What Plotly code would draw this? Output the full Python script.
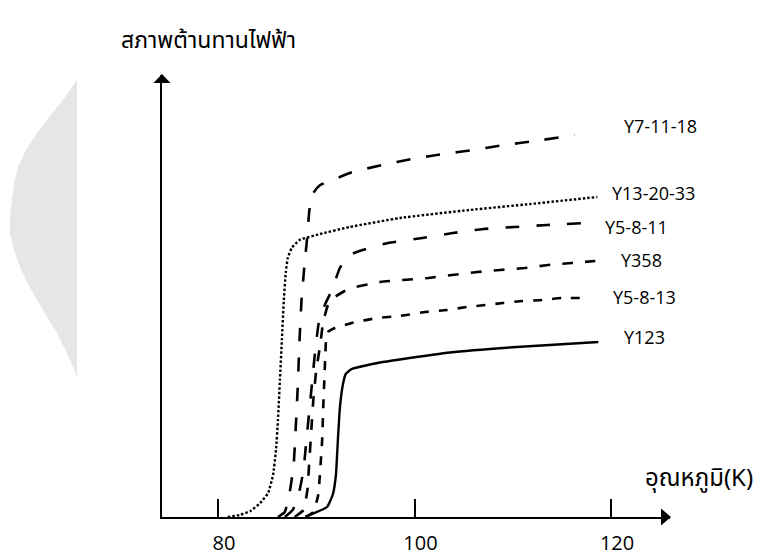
import plotly.graph_objects as go

# Temperature (K) / resistance (arbitrary units) readings for each compound
y123_T = [88.9, 89.6, 91.1, 91.7, 92.0, 92.2, 92.4, 92.7, 93.0, 93.6, 94.8, 96.5, 98.5, 103.6, 110.4, 118.7]
y123_R = [0.0, 0.3, 1.0, 2.3, 4.2, 7.7, 10.9, 13.2, 14.3, 14.8, 15.1, 15.45, 15.75, 16.45, 17.0, 17.5]

y5813_T = [88.9, 89.7, 90.2, 90.4, 90.6, 90.7, 90.8, 90.9, 91.0, 91.2, 91.9, 92.9, 93.6, 96.2, 98.5,
           101.1, 103.3, 105.3, 107.2, 109.0, 111.0, 113.0, 115.0, 117.3]
y5813_R = [0.0, 0.5, 2.2, 4.7, 7.7, 10.7, 13.2, 15.7, 17.7, 18.5, 18.9, 19.2, 19.4, 19.9, 20.1,
           20.5, 20.7, 21.0, 21.2, 21.4, 21.6, 21.7, 21.9, 21.9]

y358_T = [87.8, 88.7, 89.1, 89.3, 89.5, 89.7, 90.0, 90.4, 90.7, 91.2, 91.9, 92.7, 93.6, 96.5, 98.8,
          101.4, 103.8, 106.4, 108.7, 111.2, 113.6, 116.0, 118.4]
y358_R = [0.0, 0.7, 2.7, 5.7, 8.7, 11.7, 14.7, 17.2, 19.5, 21.2, 22.0, 22.5, 22.9, 23.5, 23.7,
          23.9, 24.2, 24.5, 24.7, 24.9, 25.2, 25.4, 25.6]

y5811_T = [86.8, 87.6, 88.2, 88.7, 89.0, 89.3, 89.6, 89.9, 90.3, 91.0, 91.6, 92.4, 93.4, 94.7, 97.3,
           100.8, 103.9, 107.0, 110.2, 113.5, 117.4]
y5811_R = [0.0, 0.7, 2.2, 4.7, 7.7, 10.7, 13.7, 16.7, 19.7, 21.5, 22.7, 24.9, 26.2, 26.7, 27.4,
           27.9, 28.4, 28.8, 29.0, 29.2, 29.4]

y132033_T = [81.0, 82.2, 83.3, 84.3, 85.1, 85.6, 85.9, 86.1, 86.3, 86.5, 86.7, 86.9, 87.1, 87.5, 88.3,
             90.4, 93.4, 98.5, 105.6, 111.8, 118.6]
y132033_R = [0.0, 0.2, 0.6, 1.4, 2.4, 4.2, 6.7, 9.7, 13.7, 17.7, 21.7, 24.5, 25.9, 26.9, 27.7,
             28.3, 29.0, 29.9, 30.7, 31.3, 32.0]

y71118_T = [86.1, 86.8, 87.3, 87.7, 87.9, 88.1, 88.3, 88.5, 88.8, 89.1, 89.3, 89.7, 90.4, 91.9, 93.7,
            96.7, 99.7, 102.9, 106.0, 109.1, 112.3, 116.3]
y71118_R = [0.0, 0.5, 2.5, 5.2, 8.7, 12.7, 17.7, 21.7, 25.2, 28.2, 30.7, 32.4, 33.2, 33.8, 34.5,
            35.2, 35.8, 36.3, 36.7, 37.2, 37.6, 38.2]

tick_values = [80, 100, 120]
tick_text = ["80", "100", "120"]

series = [
    ("Y7-11-18", y71118_T, y71118_R, "14px,16px", 2.6),
    ("Y13-20-33", y132033_T, y132033_R, "2.5px,2px", 2.4),
    ("Y5-8-11", y5811_T, y5811_R, "14px,17px", 2.6),
    ("Y358", y358_T, y358_R, "11px,12px", 2.6),
    ("Y5-8-13", y5813_T, y5813_R, "9px,10px", 2.6),
    ("Y123", y123_T, y123_R, "solid", 2.4),
]

# label anchor points (left edge, vertical middle) in data units
label_pos = {
    "Y7-11-18": (121.1, 39.1),
    "Y13-20-33": (119.9, 32.4),
    "Y5-8-11": (119.2, 29.0),
    "Y358": (120.8, 25.7),
    "Y5-8-13": (120.0, 22.0),
    "Y123": (121.1, 18.0),
}

W, H = 764, 558
ML, MR, MT, MB = 162, 94, 75, 41

fig = go.Figure()
for name, t, r, dash, w in series:
    fig.add_trace(go.Scatter(
        x=t, y=r, mode="lines", name=name,
        line=dict(color="black", width=w, dash=dash, shape="spline", smoothing=0.4),
        showlegend=False, hoverinfo="skip",
    ))

annotations = []
for name, (lx, ly) in label_pos.items():
    annotations.append(dict(x=lx, y=ly, xref="x", yref="y", text=name, showarrow=False,
                            xanchor="left", yanchor="middle",
                            font=dict(family="Open Sans", size=18, color="black")))


def paper(px, py):
    """Pixel position on the page -> paper coordinates."""
    return (px - ML) / (W - ML - MR), (H - MB - py) / (H - MT - MB)


thai_font = "Noto Sans Thai, Tahoma, Loma, Garuda, sans-serif"
tx, ty = paper(119, 41)
annotations.append(dict(x=tx, y=ty, xref="paper", yref="paper",
                        text="สภาพต้านทานไฟฟ้า", showarrow=False, xanchor="left", yanchor="middle",
                        font=dict(family=thai_font, size=23, color="black")))
lx, ly = paper(643, 479)
annotations.append(dict(x=lx, y=ly, xref="paper", yref="paper", text="อุณหภูมิ(K)", showarrow=False,
                        xanchor="left", yanchor="middle",
                        font=dict(family=thai_font, size=24, color="black")))


def path_from(points):
    pts = [paper(*p) for p in points]
    return "M " + " L ".join(f"{x:.5f},{y:.5f}" for x, y in pts) + " Z"


# light grey crescent on the left edge of the page
crescent = [(77, 80), (70, 90), (63, 100), (50, 116), (37, 133), (26, 150), (18, 167), (14, 184),
            (12, 200), (10, 217), (10, 233), (14, 250), (20, 267), (28, 284), (37, 300), (47, 317),
            (57, 333), (64, 347), (70, 360), (74, 369), (77, 377)]
shapes = [dict(type="path", xref="paper", yref="paper", path=path_from(crescent),
               fillcolor="#e6e6e6", line=dict(width=0), layer="below")]

# arrow heads at the ends of both axes
shapes.append(dict(type="path", xref="paper", yref="paper",
                   path=path_from([(ML, MT - 1), (ML - 8.5, MT + 8), (ML + 8.5, MT + 8)]),
                   fillcolor="black", line=dict(width=0)))
shapes.append(dict(type="path", xref="paper", yref="paper",
                   path=path_from([(W - MR + 1, H - MB), (W - MR - 9, H - MB - 8.5), (W - MR - 9, H - MB + 8.5)]),
                   fillcolor="black", line=dict(width=0)))

fig.update_layout(
    width=W, height=H,
    margin=dict(l=ML, r=MR, t=MT, b=MB, autoexpand=False),
    paper_bgcolor="white", plot_bgcolor="white",
    xaxis=dict(range=[74.30, 126.0], tickvals=tick_values, ticktext=tick_text,
               ticks="inside", ticklen=18, tickwidth=2, tickcolor="black",
               showline=True, linewidth=2, linecolor="black", showgrid=False, zeroline=False,
               tickfont=dict(family="Open Sans", size=20, color="black"),
               ticklabelshift=6, ticklabelstandoff=7, automargin=False),
    yaxis=dict(range=[0, 44.2], showline=True, linewidth=2, linecolor="black",
               showgrid=False, zeroline=False, showticklabels=False, ticks="", automargin=False),
    annotations=annotations,
    shapes=shapes,
)

fig.write_html("out.html")
